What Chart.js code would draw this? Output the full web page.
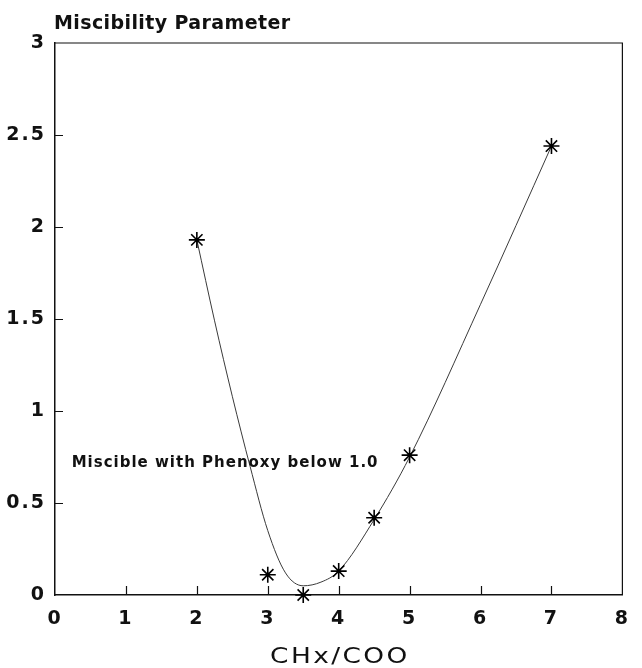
<!DOCTYPE html>
<html>
<head>
<meta charset="utf-8">
<script src="https://cdn.jsdelivr.net/npm/chart.js@4.4.1/dist/chart.umd.min.js"></script>
<style>
  html, body { margin: 0; padding: 0; background: #fff; }
  canvas { display: block; }
</style>
</head>
<body>
<canvas id="chart" width="642" height="668"></canvas>
<script>
// Measured points: miscibility parameter against CHx/COO ratio
const ratio = [2, 3, 3.5, 4, 4.5, 5, 7];
const miscibility = [1.93, 0.11, 0.0, 0.13, 0.42, 0.76, 2.44];

// Smooth fitted curve through the measurements
const fitRatio = [2, 2.25, 2.5, 2.75, 3, 3.25, 3.5, 3.75, 4, 4.5, 5, 6, 7];
const fitValue = [1.93, 1.49, 1.08, 0.70, 0.35, 0.12, 0.05, 0.07, 0.13, 0.41, 0.75, 1.58, 2.44];

// Axis ticks and their labels
const xTicks = [0, 1, 2, 3, 4, 5, 6, 7, 8];
const yTicks = [0, 0.5, 1, 1.5, 2, 2.5, 3];
const yTickLabels = ['0', '0.5', '1', '1.5', '2', '2.5', '3'];

// Texts
const yAxisTitle = 'Miscibility Parameter';
const xAxisTitle = 'CHx/COO';
const noteText = 'Miscible with Phenoxy below 1.0';

const FONT = '"DejaVu Sans", "Liberation Sans", Arial, sans-serif';

const frameAndTexts = {
  id: 'frameAndTexts',
  beforeDraw(chart) {
    chart.ctx.letterSpacing = '2px';
  },
  beforeDatasetsDraw(chart) {
    const { ctx, chartArea: a, scales: { x, y } } = chart;
    ctx.save();
    ctx.letterSpacing = '0px';
    ctx.strokeStyle = '#111';
    // top and right frame lines
    ctx.lineWidth = 1.2;
    ctx.beginPath();
    ctx.moveTo(a.left, a.top);
    ctx.lineTo(a.right, a.top);
    ctx.lineTo(a.right, a.bottom);
    ctx.stroke();
    // inward tick marks
    ctx.beginPath();
    xTicks.forEach(v => {
      if (v === xTicks[0] || v === xTicks[xTicks.length - 1]) return;
      const px = Math.round(x.getPixelForValue(v)) + 0.5;
      ctx.moveTo(px, a.bottom);
      ctx.lineTo(px, a.bottom - 9);
    });
    yTicks.forEach(v => {
      if (v === yTicks[0] || v === yTicks[yTicks.length - 1]) return;
      const py = Math.round(y.getPixelForValue(v)) + 0.5;
      ctx.moveTo(a.left, py);
      ctx.lineTo(a.left + 8, py);
    });
    ctx.stroke();
    ctx.restore();
  },
  afterDraw(chart) {
    const { ctx, chartArea: a, scales: { x, y } } = chart;
    ctx.save();
    ctx.fillStyle = '#111';
    ctx.textBaseline = 'alphabetic';

    // y axis title above the plot
    ctx.letterSpacing = '0.4px';
    ctx.font = 'bold 19px ' + FONT;
    ctx.textAlign = 'left';
    ctx.fillText(yAxisTitle, a.left - 1, 29);

    // note inside the plot
    ctx.letterSpacing = '1px';
    ctx.font = 'bold 15px ' + FONT;
    ctx.fillText(noteText, x.getPixelForValue(0.235), y.getPixelForValue(0.695));

    // x axis title, in a wide face
    ctx.letterSpacing = '2px';
    ctx.font = '22px ' + FONT;
    const w = ctx.measureText(xAxisTitle).width - 2;
    const cx = (a.left + a.right) / 2;
    ctx.translate(cx, 663);
    ctx.scale(1.2, 1);
    ctx.fillText(xAxisTitle, -w / 2, 0);
    ctx.restore();
    ctx.letterSpacing = '0px';
  }
};

new Chart(document.getElementById('chart'), {
  type: 'scatter',
  data: {
    datasets: [
      {
        label: 'fit',
        type: 'line',
        data: fitRatio.map((r, i) => ({ x: r, y: fitValue[i] })),
        borderColor: '#3a3a3a',
        borderWidth: 1,
        pointRadius: 0,
        fill: false,
        cubicInterpolationMode: 'monotone',
        order: 2
      },
      {
        label: 'measured',
        data: ratio.map((r, i) => ({ x: r, y: miscibility[i] })),
        pointStyle: 'star',
        pointRadius: 8,
        pointBorderWidth: 1.6,
        borderColor: '#000',
        backgroundColor: '#000',
        clip: false,
        order: 1
      }
    ]
  },
  options: {
    responsive: false,
    animation: false,
    devicePixelRatio: 1,
    layout: { padding: { top: 43, right: 7, left: 0, bottom: 0 } },
    plugins: {
      legend: { display: false },
      tooltip: { enabled: false }
    },
    scales: {
      x: {
        type: 'linear',
        min: 0,
        max: 8,
        afterBuildTicks: s => { s.ticks = xTicks.map(v => ({ value: v })); },
        afterFit: s => { s.height = 73; },
        grid: { display: false, drawTicks: false },
        border: { display: true, color: '#111', width: 1.5 },
        ticks: {
          color: '#111',
          padding: 13,
          maxRotation: 0,
          font: { family: FONT, size: 19, weight: 'bold' }
        }
      },
      y: {
        type: 'linear',
        min: 0,
        max: 3,
        afterBuildTicks: s => { s.ticks = yTicks.map(v => ({ value: v })); },
        afterFit: s => { s.width = 55; },
        grid: { display: false, drawTicks: false },
        border: { display: true, color: '#111', width: 1.5 },
        ticks: {
          color: '#111',
          padding: 9,
          font: { family: FONT, size: 19, weight: 'bold' },
          callback: (value, index) => yTickLabels[index]
        }
      }
    }
  },
  plugins: [frameAndTexts]
});
</script>
</body>
</html>
